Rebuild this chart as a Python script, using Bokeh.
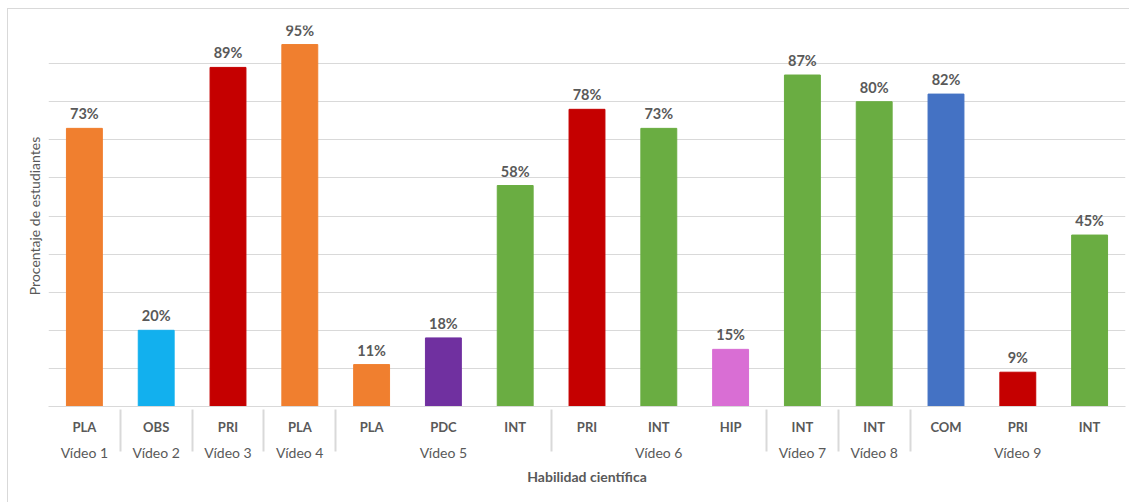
from bokeh.plotting import figure
from bokeh.models import FactorRange, Range1d, FixedTicker, ColumnDataSource, LinearAxis
from bokeh.core.properties import value
from bokeh.embed import file_html
from bokeh.resources import INLINE

videos = ["Vídeo 1", "Vídeo 2", "Vídeo 3", "Vídeo 4", "Vídeo 5", "Vídeo 5", "Vídeo 5",
          "Vídeo 6", "Vídeo 6", "Vídeo 6", "Vídeo 7", "Vídeo 8", "Vídeo 9", "Vídeo 9", "Vídeo 9"]
skills = ["PLA", "OBS", "PRI", "PLA", "PLA", "PDC", "INT",
          "PRI", "INT", "HIP", "INT", "INT", "COM", "PRI", "INT"]
percent = [73, 20, 89, 95, 11, 18, 58, 78, 73, 15, 87, 80, 82, 9, 45]
grid_ticks = [0, 10, 20, 30, 40, 50, 60, 70, 80, 90, 100]

skill_colors = {"PLA": "#F07F2F", "OBS": "#12B0EE", "PRI": "#C50000", "PDC": "#7030A0",
                "INT": "#6AAD42", "HIP": "#D96ED4", "COM": "#4472C4"}

factors = list(zip(videos, skills))
src = ColumnDataSource(dict(
    x=factors,
    top=percent,
    color=[skill_colors[s] for s in skills],
    label=[f"{v}%" for v in percent],
))

FONT = "Lato"
GREY = "#595959"

p = figure(width=1122, height=494, output_backend="svg", toolbar_location=None,
           x_range=FactorRange(*factors, factor_padding=0, group_padding=0, range_padding=0),
           y_range=Range1d(0, 100), y_axis_location=None,
           min_border_left=40, min_border_right=5, min_border_top=16, min_border_bottom=97)
p.outline_line_color = None
p.background_fill_color = "white"
p.border_fill_color = "white"
p.margin = (8, 0, 0, 7)
p.styles = {"border-left": "1px solid #d9d9d9", "border-top": "1px solid #d9d9d9"}

p.vbar(x="x", top="top", width=0.5, color="color", source=src)
p.text(x="x", y="top", text="label", source=src, text_align="center", text_baseline="bottom",
       y_offset=-6, text_font=value(FONT), text_font_size="14.5px", text_font_style="bold",
       text_color=GREY)

# y axis: title only, gridlines every 10 %
ya = LinearAxis(ticker=FixedTicker(ticks=[]), axis_line_color=None,
                major_tick_line_color=None, minor_tick_line_color=None,
                axis_label="Procentaje de estudiantes", axis_label_text_font=FONT,
                axis_label_text_font_size="14px", axis_label_text_font_style="normal",
                axis_label_text_color=GREY, axis_label_standoff=6, major_label_standoff=0)
p.add_layout(ya, "left")
p.ygrid.ticker = FixedTicker(ticks=grid_ticks)
p.ygrid.grid_line_color = "#d9d9d9"
p.xgrid.grid_line_color = None

# x axis
xa = p.xaxis[0]
xa.axis_line_color = "#d9d9d9"
xa.major_tick_line_color = None
xa.minor_tick_line_color = None
xa.major_label_standoff = 6
xa.major_label_text_font = FONT
xa.major_label_text_font_size = "13px"
xa.major_label_text_font_style = "bold"
xa.major_label_text_color = GREY
xa.group_text_font = FONT
xa.group_text_font_size = "14px"
xa.group_text_font_style = "normal"
xa.group_text_color = GREY
xa.separator_line_color = "#d9d9d9"
xa.axis_label = "Habilidad científica"
xa.axis_label_text_font = FONT
xa.axis_label_text_font_size = "14px"
xa.axis_label_text_font_style = "bold"
xa.axis_label_text_color = GREY
xa.axis_label_standoff = 4

open("out.html", "w").write(file_html(p, INLINE))
